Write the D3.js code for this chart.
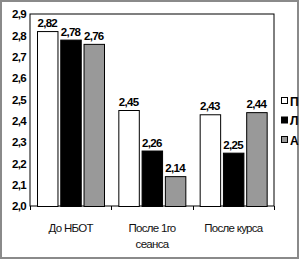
<!DOCTYPE html>
<html>
<head>
<meta charset="utf-8">
<script src="https://cdn.jsdelivr.net/npm/d3@7"></script>
<style>
body{margin:0;background:#fff;}
text{font-family:"Liberation Sans",Arial,sans-serif;}
</style>
</head>
<body>
<script>
var categories=["До НБОТ","После 1го|сеанса","После курса"];
var seriesNames=["П","Л","А"];
var seriesColors=["#ffffff","#000000","#999999"];
var valuesP=[2.82,2.45,2.43];
var valuesL=[2.78,2.26,2.25];
var valuesA=[2.76,2.14,2.44];
var yTicks=[2.0,2.1,2.2,2.3,2.4,2.5,2.6,2.7,2.8,2.9];

var drawGraph=function()
{
  var scren={width:301,height:262};
  var svg=d3.select("body").append("svg")
            .attr("width",scren.width)
            .attr("height",scren.height);
  var margins={top:14,left:30,right:27,bottom:56};
  var width=scren.width-margins.left-margins.right;
  var height=scren.height-margins.top-margins.bottom;

  // outer frame
  svg.append("rect")
     .attr("x",1).attr("y",1)
     .attr("width",scren.width-4).attr("height",scren.height-5)
     .attr("fill","#fff").attr("stroke","#8a8a8a").attr("stroke-width",2);

  var xScale=d3.scaleBand().domain(categories).range([0,width]);
  var inner=d3.scaleBand().domain(seriesNames).range([7,74]).paddingInner(0.12);
  var yScale=d3.scaleLinear().domain([2.0,2.9]).range([height,0]);

  var plot=svg.append("g").attr("transform","translate("+margins.left+","+margins.top+")");

  plot.append("rect").attr("width",width).attr("height",height)
      .attr("fill","none").attr("stroke","#000").attr("stroke-width",1);

  var series=[valuesP,valuesL,valuesA];
  var groups=plot.selectAll("g.cat").data(categories).enter().append("g")
                 .attr("class","cat")
                 .attr("transform",function(d){return "translate("+xScale(d)+",0)";});

  groups.each(function(c,ci){
    var g=d3.select(this);
    seriesNames.forEach(function(s,si){
      var v=series[si][ci];
      g.append("rect")
       .attr("x",inner(s)+0.5)
       .attr("y",yScale(v)+0.5)
       .attr("width",inner.bandwidth())
       .attr("height",height-yScale(v))
       .attr("fill",seriesColors[si])
       .attr("stroke","#000").attr("stroke-width",1);
      g.append("text")
       .attr("x",inner(s)+inner.bandwidth()/2)
       .attr("y",yScale(v)-4)
       .attr("text-anchor","middle")
       .attr("font-size",11.5).attr("font-weight","bold")
       .attr("letter-spacing",-0.7)
       .text(String(v.toFixed(2)).replace(".",","));
    });
  });

  var yAxis=d3.axisLeft(yScale).tickValues(yTicks).tickSize(0).tickPadding(4)
              .tickFormat(function(d){return d.toFixed(1).replace(".",",");});
  var ya=plot.append("g").call(yAxis);
  ya.select(".domain").remove();
  ya.selectAll("text").attr("font-size",11.5).attr("font-weight","bold")
    .attr("letter-spacing",-0.7).attr("font-family","Liberation Sans, Arial, sans-serif");

  var xa=plot.append("g").attr("transform","translate(0,"+height+")");
  xa.selectAll("line").data([0,1,2,3]).enter().append("line")
    .attr("x1",function(d){return Math.round(d*xScale.step())+0.5;})
    .attr("x2",function(d){return Math.round(d*xScale.step())+0.5;})
    .attr("y1",0).attr("y2",4).attr("stroke","#000");
  xa.selectAll("text").data(categories).enter().append("text")
    .attr("x",function(d){return xScale(d)+xScale.bandwidth()/2;})
    .attr("y",26)
    .attr("text-anchor","middle")
    .attr("font-size",11.5).attr("letter-spacing",-0.7)
    .attr("fill","#111")
    .each(function(d){
      var t=d3.select(this);
      d.split("|").forEach(function(line,i){
        t.append("tspan").attr("x",xScale(d)+xScale.bandwidth()/2)
         .attr("dy",i?16:0).text(line);
      });
    });

  var legend=svg.append("g").attr("transform","translate(281,97)");
  var ll=legend.selectAll("g").data(seriesNames).enter().append("g")
               .attr("transform",function(d,i){return "translate(0,"+(i*19.5)+")";});
  ll.append("rect").attr("x",0.5).attr("y",0.5).attr("width",6).attr("height",6)
    .attr("fill",function(d,i){return seriesColors[i];}).attr("stroke","#000");
  ll.append("text").attr("x",9).attr("y",8.5)
    .attr("font-size",12).attr("font-weight","bold")
    .text(function(d){return d;});
};
drawGraph();
</script>
</body>
</html>
